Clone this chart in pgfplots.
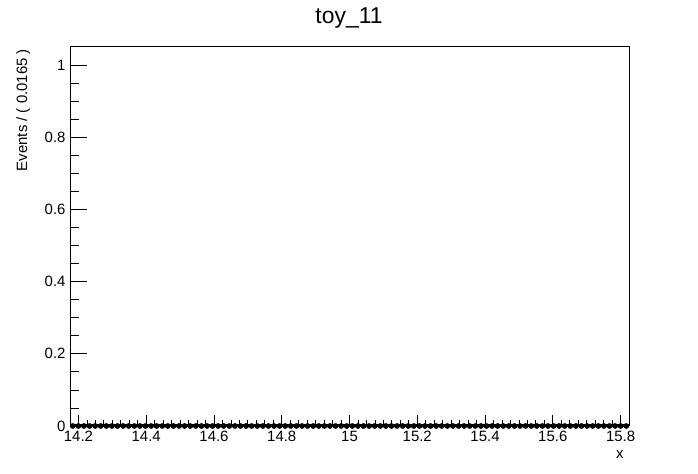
\documentclass[border=0pt]{standalone}
\usepackage{pgfplots}
\pgfplotsset{compat=1.18}
\usepackage{pgfplotstable}
\usepackage{fontspec}
\setmainfont{Liberation Sans}
\pgfplotstableread{
x y
14.18325 0
14.19975 0
14.21625 0
14.23275 0
14.24925 0
14.26575 0
14.28225 0
14.29875 0
14.31525 0
14.33175 0
14.34825 0
14.36475 0
14.38125 0
14.39775 0
14.41425 0
14.43075 0
14.44725 0
14.46375 0
14.48025 0
14.49675 0
14.51325 0
14.52975 0
14.54625 0
14.56275 0
14.57925 0
14.59575 0
14.61225 0
14.62875 0
14.64525 0
14.66175 0
14.67825 0
14.69475 0
14.71125 0
14.72775 0
14.74425 0
14.76075 0
14.77725 0
14.79375 0
14.81025 0
14.82675 0
14.84325 0
14.85975 0
14.87625 0
14.89275 0
14.90925 0
14.92575 0
14.94225 0
14.95875 0
14.97525 0
14.99175 0
15.00825 0
15.02475 0
15.04125 0
15.05775 0
15.07425 0
15.09075 0
15.10725 0
15.12375 0
15.14025 0
15.15675 0
15.17325 0
15.18975 0
15.20625 0
15.22275 0
15.23925 0
15.25575 0
15.27225 0
15.28875 0
15.30525 0
15.32175 0
15.33825 0
15.35475 0
15.37125 0
15.38775 0
15.40425 0
15.42075 0
15.43725 0
15.45375 0
15.47025 0
15.48675 0
15.50325 0
15.51975 0
15.53625 0
15.55275 0
15.56925 0
15.58575 0
15.60225 0
15.61875 0
15.63525 0
15.65175 0
15.66825 0
15.68475 0
15.70125 0
15.71775 0
15.73425 0
15.75075 0
15.76725 0
15.78375 0
15.80025 0
15.81675 0
}\toydata
\begin{document}
\begin{tikzpicture}[x=1bp,y=1bp]
\path[use as bounding box] (0,0) rectangle (698,474);
\node[font=\fontsize{23}{26}\selectfont] at (349,456) {toy\_11};
\begin{axis}[
  at={(70bp,48bp)}, anchor=south west,
  scale only axis, width=559bp, height=379bp,
  xmin=14.175, xmax=15.825, ymin=0, ymax=1.05,
  axis line style={line width=1pt},
  tick align=inside,
  xtick pos=bottom, ytick pos=left,
  xtick={14.2,14.4,14.6,14.8,15,15.2,15.4,15.6,15.8},
  ytick={0,0.2,0.4,0.6,0.8,1},
  minor xtick={14.175,14.2,...,15.825},
  minor y tick num=3,
  major tick length=17bp, minor tick length=8.5bp,
  xtick style={/pgfplots/major tick length=11bp,/pgfplots/minor tick length=5.5bp},
  every tick/.style={black,line width=0.8pt},
  tick label style={font=\fontsize{15}{18}\selectfont},
  /pgf/number format/assume math mode=true,
  xticklabel style={yshift=-2bp},
  yticklabel style={xshift=-1bp},
  scaled ticks=false,
  xticklabel={\pgfmathprintnumber[fixed,precision=1]{\tick}},
  yticklabel={\pgfmathprintnumber[fixed,precision=1]{\tick}},
  xlabel={x}, ylabel={Events / ( 0.0165 )},
  label style={font=\fontsize{15}{18}\selectfont},
  xlabel style={at={(axis description cs:1,0)}, anchor=north east, yshift=-21bp, xshift=-2bp},
  ylabel style={at={(axis description cs:-0.071,0.995)}, anchor=south east, inner sep=0pt},
  clip=false,
]
\addplot[only marks, mark=*, mark size=2.6bp, black,
  error bars/.cd, x dir=both, x fixed=0.00825, error bar style={line width=3bp}, error mark=none]
  table[x=x,y=y] {\toydata};
\end{axis}
\end{tikzpicture}
\end{document}
